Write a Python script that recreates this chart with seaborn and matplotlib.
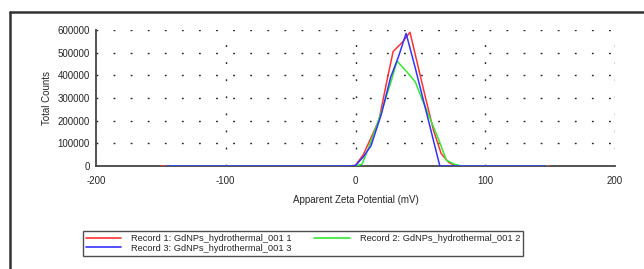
import matplotlib

matplotlib.use("Agg")
import matplotlib.pyplot as plt
import pandas as pd
import seaborn as sns
from matplotlib.lines import Line2D
from matplotlib.ticker import MultipleLocator

# Record 1 (red)
x_rec1 = [-150, -5, 0, 6, 12, 18, 24, 29, 36, 42, 48, 54, 60, 66, 72, 78, 150]
y_rec1 = [0, 0, 3000, 50000, 125000, 200000, 370000, 505000, 545000, 590000,
          445000, 300000, 160000, 55000, 15000, 0, 0]

# Record 2 (green)
x_rec2 = [-146, 0, 5, 10, 16, 22, 27, 32, 39, 46, 52, 58, 64, 70, 76, 82, 148]
y_rec2 = [0, 0, 8000, 79000, 173000, 275000, 365000, 463000, 419000, 372000,
          285000, 202000, 118000, 26000, 8000, 0, 0]

# Record 3 (blue)
x_rec3 = [-146, -5, 0, 6, 12, 20, 27, 33, 39, 46, 52, 58, 65, 147]
y_rec3 = [0, 0, 2000, 40000, 90000, 230000, 390000, 480000, 585000, 434000,
          297000, 160000, 0, 0]

labels = [
    "Record 1: GdNPs_hydrothermal_001 1",
    "Record 2: GdNPs_hydrothermal_001 2",
    "Record 3: GdNPs_hydrothermal_001 3",
]
colors = ["#ff3333", "#33e833", "#3333ff"]

sns.set_style("white")
plt.rcParams["font.family"] = ["Liberation Sans", "DejaVu Sans"]
plt.rcParams["axes.unicode_minus"] = False

fig = plt.figure(figsize=(6.44, 2.69), dpi=100)
ax = fig.add_axes([96 / 644, 1 - 166 / 269, 519 / 644, 136 / 269])

# outer frame: only top and left edges are inside the picture
frame_kw = dict(transform=fig.transFigure, color="#333333", linewidth=1.8, zorder=0)
fig.add_artist(Line2D([10 / 644, 1.0], [1 - 12 / 269, 1 - 12 / 269], **frame_kw))
fig.add_artist(Line2D([10 / 644, 10 / 644], [0.0, 1 - 12 / 269], **frame_kw))

# dotted grid
grid_style = dict(color="#222222", linewidth=1.0, linestyle=(0, (1.3, 11.0)), zorder=1)
for yv in range(100000, 600001, 100000):
    ax.axhline(yv, **grid_style)
for xv in [-100, 0, 100, 200]:
    ax.axvline(xv, **grid_style)

series = [(x_rec1, y_rec1), (x_rec2, y_rec2), (x_rec3, y_rec3)]
for (xs, ys), lab, col in zip(series, labels, colors):
    df = pd.DataFrame({"x": xs, "y": ys})
    sns.lineplot(data=df, x="x", y="y", ax=ax, color=col, linewidth=1.1,
                 sort=False, estimator=None, legend=False, zorder=3)

ax.set_xlim(-200, 200)
ax.set_ylim(0, 600000)
ax.xaxis.set_major_locator(MultipleLocator(100))
ax.xaxis.set_minor_locator(MultipleLocator(50))
ax.yaxis.set_major_locator(MultipleLocator(100000))
ax.yaxis.set_minor_locator(MultipleLocator(50000))
ax.tick_params(which="both", direction="inout", length=5, width=1,
               color="#333333", labelsize=7, pad=2)
ax.tick_params(axis="x", which="both", pad=5)
for s in ["top", "right"]:
    ax.spines[s].set_visible(False)
for s in ["left", "bottom"]:
    ax.spines[s].set_color("#444444")
    ax.spines[s].set_linewidth(1.3)
    ax.spines[s].set_zorder(2)

ax.set_xlabel("Apparent Zeta Potential (mV)", fontsize=7, labelpad=6)
ax.set_ylabel("Total Counts", fontsize=7, labelpad=4)

handles = [Line2D([], [], color=c, linewidth=1.2) for c in colors]
order = [0, 2, 1]
leg = fig.legend([handles[i] for i in order], [labels[i] for i in order],
                 loc="upper left", bbox_to_anchor=(83 / 644, 1 - 231 / 269),
                 ncol=2, fontsize=6.7, frameon=True, fancybox=False,
                 edgecolor="#222222", handlelength=3.8, columnspacing=2.4,
                 handletextpad=1.1, borderpad=0.3, labelspacing=0.1,
                 borderaxespad=0)
leg.get_frame().set_linewidth(1.0)

fig.savefig("out.png", dpi=100)
